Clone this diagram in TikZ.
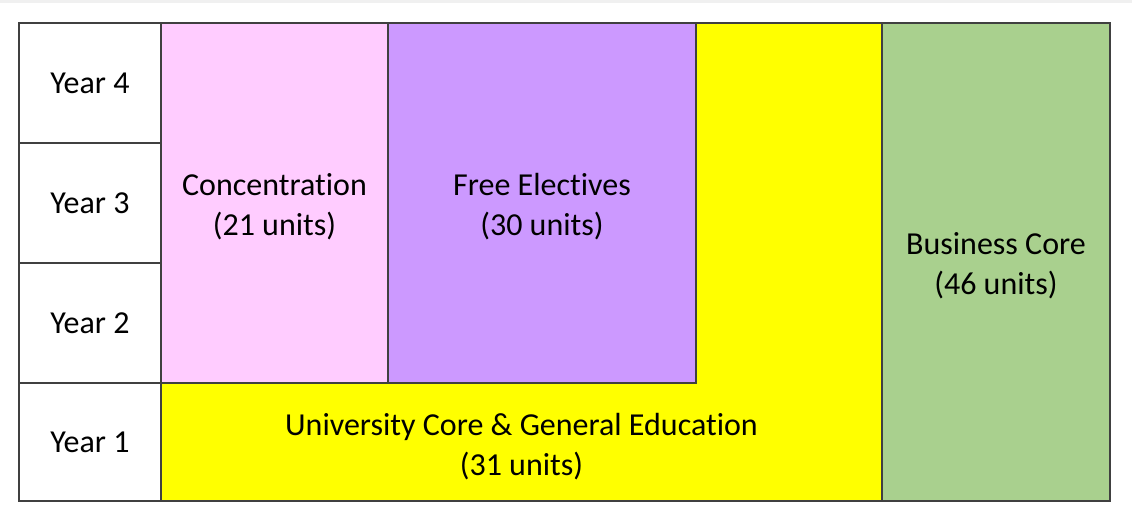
\documentclass[tikz,border=0pt]{standalone}
\usepackage{fontspec}
\setmainfont{Carlito}[Ligatures={NoCommon}]
\definecolor{pinkc}{HTML}{FFCCFF}
\definecolor{purplec}{HTML}{CC99FF}
\definecolor{yellowc}{HTML}{FFFF00}
\definecolor{greenc}{HTML}{A9D08E}
\definecolor{linec}{HTML}{404040}
\definecolor{bandc}{HTML}{F0F0F0}
\tikzset{
  cell/.style={draw=linec, line width=2pt, rectangle, inner sep=0pt, align=center,
    font=\fontsize{32}{40}\selectfont, text=black},
  label text/.style={inner sep=0pt, align=center, font=\fontsize{32}{40}\selectfont, text=black}
}
\begin{document}
\begin{tikzpicture}[x=1pt,y=-1pt]
\useasboundingbox (0,0) rectangle (1132,505);
\fill[white] (0,0) rectangle (1132,505);
\fill[bandc] (0,0) rectangle (1132,3);
% yellow L-shaped region
\filldraw[fill=yellowc, draw=linec, line width=2pt]
  (161,383) -- (696,383) -- (696,23) -- (882,23) -- (882,501) -- (161,501) -- cycle;
\node[label text] (univ) at (521.5,447) {University Core \& General Education\\(31 units)};
% year column
\node[cell, fill=white, minimum width=142pt, minimum height=120pt] (y4) at (90,83) {Year 4};
\node[cell, fill=white, minimum width=142pt, minimum height=120pt] (y3) at (90,203) {Year 3};
\node[cell, fill=white, minimum width=142pt, minimum height=120pt] (y2) at (90,323) {Year 2};
\node[cell, fill=white, minimum width=142pt, minimum height=118pt] (y1) at (90,442) {Year 1};
% upper blocks
\node[cell, fill=pinkc, minimum width=227pt, minimum height=360pt] (conc) at (274.5,203) {};
\node[label text] (conct) at ([yshift=-3.5pt]conc.center) {Concentration\\(21 units)};
\node[cell, fill=purplec, minimum width=308pt, minimum height=360pt] (free) at (542,203) {};
\node[label text] (freet) at ([yshift=-3.5pt]free.center) {Free Electives\\(30 units)};
% business core
\node[cell, fill=greenc, minimum width=228pt, minimum height=478pt] (bus) at (996,262) {};
\node[label text] (bust) at ([yshift=-4pt]bus.center) {Business Core\\(46 units)};
% outer border
\draw[linec, line width=2pt] (19,23) rectangle (1110,501);
\end{tikzpicture}
\end{document}
